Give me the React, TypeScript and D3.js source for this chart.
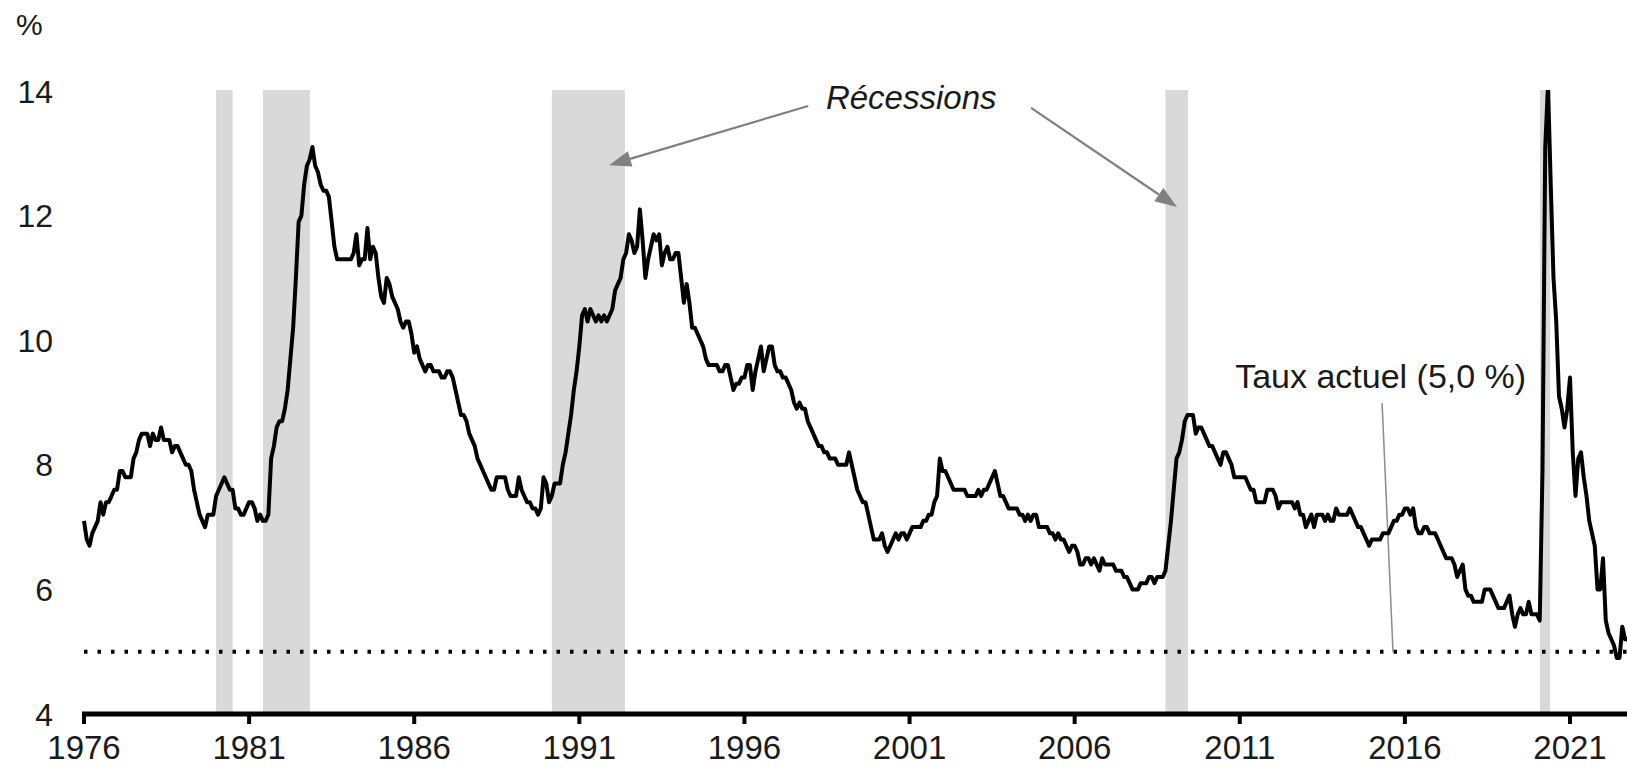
import React from "react";
import * as d3 from "d3";

// ---- Data ----
const startYear = 1976;
// Monthly unemployment rate (%), Jan 1976 onward
const unemployment: number[] = [
  // 1976
  7.1, 6.8, 6.7, 6.9, 7.0, 7.1, 7.4, 7.2, 7.4, 7.4, 7.5, 7.6,
  // 1977
  7.6, 7.9, 7.9, 7.8, 7.8, 7.8, 8.1, 8.2, 8.4, 8.5, 8.5, 8.5,
  // 1978
  8.3, 8.5, 8.4, 8.4, 8.6, 8.4, 8.4, 8.4, 8.2, 8.3, 8.3, 8.2,
  // 1979
  8.1, 8.0, 8.0, 7.9, 7.6, 7.4, 7.2, 7.1, 7.0, 7.2, 7.2, 7.2,
  // 1980
  7.5, 7.6, 7.7, 7.8, 7.7, 7.6, 7.6, 7.3, 7.3, 7.2, 7.2, 7.3,
  // 1981
  7.4, 7.4, 7.3, 7.1, 7.2, 7.1, 7.1, 7.2, 8.1, 8.3, 8.6, 8.7,
  // 1982
  8.7, 8.9, 9.2, 9.7, 10.2, 11.0, 11.9, 12.0, 12.5, 12.8, 12.9, 13.1,
  // 1983
  12.8, 12.7, 12.5, 12.4, 12.4, 12.3, 11.9, 11.5, 11.3, 11.3, 11.3, 11.3,
  // 1984
  11.3, 11.3, 11.4, 11.7, 11.2, 11.3, 11.3, 11.8, 11.3, 11.5, 11.4, 11.0,
  // 1985
  10.7, 10.6, 11.0, 10.9, 10.7, 10.6, 10.5, 10.3, 10.2, 10.3, 10.3, 10.1,
  // 1986
  9.8, 9.9, 9.7, 9.6, 9.5, 9.6, 9.6, 9.5, 9.5, 9.5, 9.4, 9.4,
  // 1987
  9.5, 9.5, 9.4, 9.2, 9.0, 8.8, 8.8, 8.7, 8.5, 8.4, 8.3, 8.1,
  // 1988
  8.0, 7.9, 7.8, 7.7, 7.6, 7.6, 7.8, 7.8, 7.8, 7.8, 7.6, 7.5,
  // 1989
  7.5, 7.5, 7.8, 7.6, 7.5, 7.4, 7.4, 7.3, 7.3, 7.2, 7.3, 7.8,
  // 1990
  7.7, 7.4, 7.5, 7.7, 7.7, 7.7, 8.0, 8.2, 8.5, 8.8, 9.2, 9.5,
  // 1991
  9.9, 10.4, 10.5, 10.3, 10.5, 10.4, 10.3, 10.4, 10.3, 10.4, 10.3, 10.4,
  // 1992
  10.5, 10.8, 10.9, 11.0, 11.3, 11.4, 11.7, 11.6, 11.4, 11.5, 12.1, 11.6,
  // 1993
  11.0, 11.3, 11.5, 11.7, 11.6, 11.7, 11.2, 11.4, 11.5, 11.3, 11.3, 11.4,
  // 1994
  11.4, 11.0, 10.6, 10.9, 10.6, 10.2, 10.2, 10.1, 10.0, 9.9, 9.7, 9.6,
  // 1995
  9.6, 9.6, 9.6, 9.5, 9.5, 9.6, 9.6, 9.4, 9.2, 9.3, 9.3, 9.4,
  // 1996
  9.4, 9.6, 9.6, 9.2, 9.5, 9.7, 9.9, 9.5, 9.7, 9.9, 9.9, 9.6,
  // 1997
  9.5, 9.5, 9.4, 9.4, 9.3, 9.2, 9.0, 8.9, 9.0, 8.9, 8.9, 8.7,
  // 1998
  8.6, 8.5, 8.4, 8.3, 8.3, 8.2, 8.2, 8.1, 8.1, 8.1, 8.0, 8.0,
  // 1999
  8.0, 8.0, 8.2, 8.0, 7.8, 7.6, 7.5, 7.4, 7.4, 7.2, 7.0, 6.8,
  // 2000
  6.8, 6.8, 6.9, 6.7, 6.6, 6.7, 6.8, 6.9, 6.8, 6.9, 6.9, 6.8,
  // 2001
  6.9, 7.0, 7.0, 7.0, 7.0, 7.1, 7.1, 7.2, 7.2, 7.4, 7.5, 8.1,
  // 2002
  7.9, 7.9, 7.8, 7.7, 7.6, 7.6, 7.6, 7.6, 7.6, 7.5, 7.5, 7.5,
  // 2003
  7.5, 7.6, 7.5, 7.6, 7.6, 7.7, 7.8, 7.9, 7.7, 7.5, 7.5, 7.4,
  // 2004
  7.3, 7.3, 7.3, 7.3, 7.2, 7.2, 7.1, 7.2, 7.1, 7.2, 7.2, 7.0,
  // 2005
  7.0, 7.0, 7.0, 6.9, 6.9, 6.8, 6.9, 6.8, 6.8, 6.7, 6.6, 6.7,
  // 2006
  6.7, 6.6, 6.4, 6.4, 6.5, 6.5, 6.4, 6.5, 6.4, 6.3, 6.5, 6.4,
  // 2007
  6.4, 6.4, 6.4, 6.3, 6.3, 6.3, 6.2, 6.2, 6.1, 6.0, 6.0, 6.0,
  // 2008
  6.1, 6.1, 6.1, 6.2, 6.2, 6.1, 6.2, 6.2, 6.2, 6.3, 6.7, 7.1,
  // 2009
  7.6, 8.1, 8.2, 8.4, 8.7, 8.8, 8.8, 8.8, 8.5, 8.6, 8.6, 8.5,
  // 2010
  8.4, 8.3, 8.3, 8.2, 8.1, 8.0, 8.2, 8.2, 8.1, 8.0, 7.8, 7.8,
  // 2011
  7.8, 7.8, 7.8, 7.7, 7.6, 7.6, 7.4, 7.4, 7.4, 7.4, 7.6, 7.6,
  // 2012
  7.6, 7.5, 7.3, 7.4, 7.4, 7.4, 7.4, 7.4, 7.3, 7.4, 7.2, 7.2,
  // 2013
  7.0, 7.1, 7.2, 7.0, 7.2, 7.2, 7.2, 7.1, 7.2, 7.1, 7.1, 7.3,
  // 2014
  7.2, 7.2, 7.2, 7.2, 7.3, 7.2, 7.1, 7.0, 7.0, 6.9, 6.8, 6.7,
  // 2015
  6.8, 6.8, 6.8, 6.8, 6.9, 6.9, 6.9, 7.0, 7.1, 7.1, 7.2, 7.2,
  // 2016
  7.3, 7.3, 7.2, 7.3, 7.0, 6.9, 6.9, 7.0, 7.0, 6.9, 6.9, 6.9,
  // 2017
  6.8, 6.7, 6.6, 6.5, 6.5, 6.5, 6.4, 6.2, 6.3, 6.4, 6.0, 5.9,
  // 2018
  5.9, 5.8, 5.8, 5.8, 5.8, 6.0, 6.0, 6.0, 5.9, 5.8, 5.7, 5.7,
  // 2019
  5.7, 5.8, 5.9, 5.6, 5.4, 5.6, 5.7, 5.6, 5.6, 5.8, 5.6, 5.6,
  // 2020
  5.6, 5.5, 7.9, 13.1, 14.1, 12.5, 11.0, 10.3, 9.1, 8.9, 8.6, 8.9,
  // 2021
  9.4, 8.2, 7.5, 8.1, 8.2, 7.8, 7.5, 7.1, 6.9, 6.7, 6.0, 6.0,
  // 2022
  6.5, 5.5, 5.3, 5.2, 5.1, 4.9, 4.9, 5.4, 5.2, 5.2, 5.1, 5.0,
];

const recessionStarts = [1980.0, 1981.42, 1990.17, 2008.75, 2020.09];
const recessionEnds = [1980.5, 1982.84, 1992.38, 2009.43, 2020.4];

const xTickYears = [1976, 1981, 1986, 1991, 1996, 2001, 2006, 2011, 2016, 2021];
const yTickValues = [4, 6, 8, 10, 12, 14];

const currentRate = 5.0;
const currentRateLabel = "Taux actuel (5,0 %)";
const recessionLabel = "Récessions";
const unitLabel = "%";

// ---- Layout ----
const W = 1627;
const H = 770;
const FONT = "'Liberation Sans', Arial, Helvetica, sans-serif";

export default function App() {
  const x = d3.scaleLinear().domain([1976, 2021]).range([84, 1570]);
  const y = d3.scaleLinear().domain([4, 14]).range([714, 91]);

  const points = unemployment.map((v, i) => ({ t: startYear + i / 12, v }));
  const line = d3
    .line<{ t: number; v: number }>()
    .x((d) => x(d.t))
    .y((d) => y(d.v));

  const xEnd = W;

  // annotation anchors (in data space)
  const leftArrow = { x1: 1997.93, y1: 13.76, x2: 1991.9, y2: 12.81 };
  const rightArrow = { x1: 2004.68, y1: 13.73, x2: 2009.1, y2: 12.14 };
  const recLabelPos = { t: 2001.05, v: 13.71 };
  const rateLabelPos = { t: 2010.86, v: 9.23 };
  const leader = { x1: 2015.31, y1: 8.99, x2: 2015.64, y2: currentRate };

  const arrowHead = (a: { x1: number; y1: number; x2: number; y2: number }) => {
    const sx = x(a.x1), sy = y(a.y1), ex = x(a.x2), ey = y(a.y2);
    const ang = Math.atan2(ey - sy, ex - sx);
    const len = 22, hw = 8;
    const bx = ex - len * Math.cos(ang), by = ey - len * Math.sin(ang);
    const px = -Math.sin(ang), py = Math.cos(ang);
    return {
      line: { x1: sx, y1: sy, x2: bx, y2: by },
      head: `M${ex},${ey}L${bx + hw * px},${by + hw * py}L${bx - hw * px},${by - hw * py}Z`,
    };
  };
  const la = arrowHead(leftArrow);
  const ra = arrowHead(rightArrow);

  return (
    <svg
      width={W}
      height={H}
      viewBox={`0 0 ${W} ${H}`}
      style={{ position: "absolute", left: 0, top: 0, background: "#fff", display: "block" }}
      fontFamily={FONT}
    >
      <defs>
        <clipPath id="plotClip">
          <rect x={0} y={y(14) - 1} width={W} height={y(4) - y(14) + 1} />
        </clipPath>
      </defs>

      {/* recession bands */}
      {recessionStarts.map((s, i) => (
        <rect
          key={i}
          x={x(s)}
          y={y(14) - 1}
          width={x(recessionEnds[i]) - x(s)}
          height={y(4) - y(14) + 1}
          fill="#d9d9d9"
        />
      ))}

      {/* current rate dotted line */}
      <line
        x1={x(1976)}
        x2={xEnd}
        y1={y(currentRate)}
        y2={y(currentRate)}
        stroke="#000"
        strokeWidth={4}
        strokeDasharray="3.5 10"
        strokeLinecap="butt"
      />

      {/* leader line */}
      <line
        x1={x(leader.x1)}
        y1={y(leader.y1)}
        x2={x(leader.x2)}
        y2={y(leader.y2)}
        stroke="#8c8c8c"
        strokeWidth={1.5}
      />

      {/* data line */}
      <path
        d={line(points) || ""}
        fill="none"
        stroke="#000"
        strokeWidth={4}
        strokeLinejoin="round"
        clipPath="url(#plotClip)"
      />

      {/* x axis */}
      <line x1={x(1976) - 2} x2={xEnd} y1={y(4)} y2={y(4)} stroke="#000" strokeWidth={5} />
      {xTickYears.map((yr) => (
        <g key={yr}>
          <line x1={x(yr)} x2={x(yr)} y1={y(4)} y2={y(4) + 10} stroke="#000" strokeWidth={4} />
          <text x={x(yr)} y={759} textAnchor="middle" fontSize={33} fill="#1a1a1a">
            {yr}
          </text>
        </g>
      ))}

      {/* y labels */}
      {yTickValues.map((v) => (
        <text key={v} x={53} y={y(v) + 11.5} textAnchor="end" fontSize={32} fill="#1a1a1a">
          {v}
        </text>
      ))}
      <text x={16} y={35} fontSize={30} fill="#1a1a1a">
        {unitLabel}
      </text>

      {/* recession annotation */}
      <line {...la.line} stroke="#808080" strokeWidth={2.2} />
      <path d={la.head} fill="#808080" />
      <line {...ra.line} stroke="#808080" strokeWidth={2.2} />
      <path d={ra.head} fill="#808080" />
      <text
        x={x(recLabelPos.t)}
        y={y(recLabelPos.v)}
        textAnchor="middle"
        fontSize={33}
        fontStyle="italic"
        fill="#1a1a1a"
      >
        {recessionLabel}
      </text>

      {/* current rate label */}
      <text x={x(rateLabelPos.t)} y={y(rateLabelPos.v)} fontSize={34} fill="#1a1a1a">
        {currentRateLabel}
      </text>
    </svg>
  );
}
